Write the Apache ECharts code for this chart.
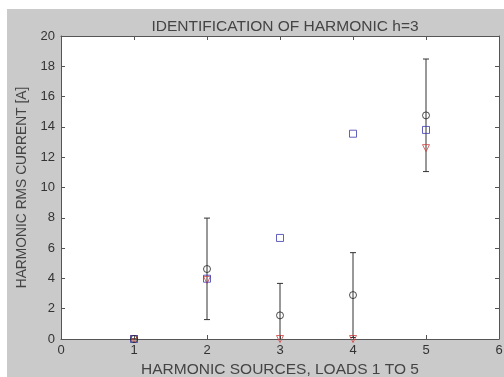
<!DOCTYPE html>
<html><head><meta charset="utf-8">
<script src="https://cdn.jsdelivr.net/npm/echarts@6/dist/echarts.min.js"></script>
<style>html,body{margin:0;padding:0;background:#fff}#c{width:504px;height:377px}</style>
</head><body><div id="c"></div>
<script>
var loads = [1, 2, 3, 4, 5];
var circleVals = [0, 4.62, 1.56, 2.9, 14.76];
var errLow = [0, 1.28, -0.54, 0.1, 11.05];
var errHigh = [0, 7.98, 3.67, 5.7, 18.48];
var squareVals = [0, 3.98, 6.67, 13.55, 13.8];
var triangleVals = [0, 3.9, 0, 0, 12.6];
var yTicks = [0, 2, 4, 6, 8, 10, 12, 14, 16, 18, 20];

var chart = echarts.init(document.getElementById('c'), null, {renderer: 'canvas'});
function pts(vals) { return loads.map(function (x, i) { return [x, vals[i]]; }); }
var errData = loads.map(function (x, i) { return [x, errLow[i], errHigh[i]]; });
var font = '"Liberation Sans", Arial, sans-serif';
var axisCommon = {
  type: 'value', min: 0, interval: 1,
  axisLine: {show: true, onZero: false, lineStyle: {color: '#555', width: 1}},
  axisTick: {show: true, inside: true, length: 4, lineStyle: {color: '#555'}},
  splitLine: {show: false},
  axisLabel: {color: '#333', fontFamily: font, fontSize: 13}
};
chart.setOption({
  animation: false,
  backgroundColor: '#fff',
  graphic: [{type: 'rect', z: -10, silent: true, shape: {x: 7, y: 9, width: 497, height: 368}, style: {fill: '#cacaca'}}],
  title: {text: 'IDENTIFICATION OF HARMONIC h=3', left: 280, top: 14, textAlign: 'center',
    textStyle: {fontFamily: font, fontSize: 15.5, fontWeight: 'normal', color: '#444'}},
  grid: {left: 61, right: 5, top: 36, bottom: 38, show: true, backgroundColor: '#fff', borderWidth: 0,
    containLabel: false, outerBoundsMode: 'none'},
  xAxis: [
    Object.assign({}, axisCommon, {max: 6, position: 'bottom',
      name: 'HARMONIC SOURCES, LOADS 1 TO 5', nameLocation: 'middle', nameGap: 21,
      nameTextStyle: {fontFamily: font, fontSize: 15.5, color: '#444'},
      axisLabel: {color: '#333', fontFamily: font, fontSize: 13, margin: 5}}),
    Object.assign({}, axisCommon, {max: 6, position: 'top', axisLabel: {show: false}})
  ],
  yAxis: [
    Object.assign({}, axisCommon, {min: 0, max: 20, interval: 2, position: 'left',
      name: 'HARMONIC RMS CURRENT [A]', nameLocation: 'middle', nameGap: 29,
      nameTextStyle: {fontFamily: font, fontSize: 13.8, color: '#444'},
      axisLabel: {color: '#333', fontFamily: font, fontSize: 13, margin: 6,
        formatter: function (v) { return yTicks.indexOf(v) >= 0 ? String(v) : ''; }}}),
    Object.assign({}, axisCommon, {min: 0, max: 20, interval: 2, position: 'right', axisLabel: {show: false}})
  ],
  series: [
    {type: 'custom', data: errData, clip: true, z: 2,
      renderItem: function (params, api) {
        var x = api.value(0);
        var lo = api.coord([x, api.value(1)]);
        var hi = api.coord([x, api.value(2)]);
        var hw = 3;
        return {type: 'group', children: [
          {type: 'line', shape: {x1: lo[0], y1: lo[1], x2: hi[0], y2: hi[1]}, style: {stroke: '#333', lineWidth: 1}},
          {type: 'line', shape: {x1: lo[0] - hw, y1: lo[1], x2: lo[0] + hw, y2: lo[1]}, style: {stroke: '#333', lineWidth: 1}},
          {type: 'line', shape: {x1: hi[0] - hw, y1: hi[1], x2: hi[0] + hw, y2: hi[1]}, style: {stroke: '#333', lineWidth: 1}}
        ]};
      }},
    {type: 'scatter', data: pts(triangleVals), symbol: 'triangle', symbolRotate: 180, symbolSize: 7, z: 3,
      itemStyle: {color: 'rgba(0,0,0,0)', borderColor: '#d04040', borderWidth: 1}},
    {type: 'scatter', data: pts(squareVals), symbol: 'rect', symbolSize: 7, z: 4,
      itemStyle: {color: 'rgba(0,0,0,0)', borderColor: '#3a3ab0', borderWidth: 1}},
    {type: 'scatter', data: pts(circleVals), symbol: 'circle', symbolSize: 7, z: 5,
      itemStyle: {color: 'rgba(0,0,0,0)', borderColor: '#222', borderWidth: 1}}
  ]
});
</script></body></html>
